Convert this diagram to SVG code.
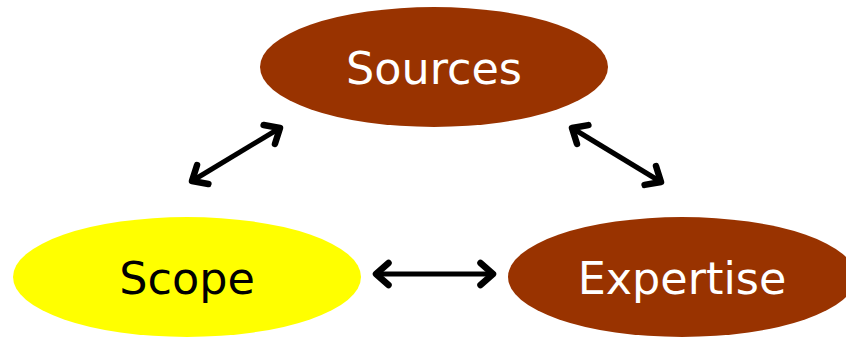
<svg xmlns="http://www.w3.org/2000/svg" width="846" height="337" viewBox="0 0 846 337">
<style>
.lbl{font-family:"DejaVu Sans",Verdana,sans-serif;font-size:44.5px;text-anchor:middle}
.conn{stroke:#000;stroke-width:5;fill:none;marker-start:url(#ah);marker-end:url(#ah)}
</style>
<defs>
<marker id="ah" markerUnits="userSpaceOnUse" viewBox="-20 -15 25 30" markerWidth="25" markerHeight="30" refX="0" refY="0" orient="auto-start-reverse" overflow="visible">
<path d="M-12.5 -11 L0 0 L-12.5 11" fill="none" stroke="#000" stroke-width="6.5" stroke-linecap="round" stroke-linejoin="round"/>
</marker>
</defs>
<rect width="846" height="337" fill="#fff"/>
<g id="sources">
<ellipse cx="434" cy="67" rx="174" ry="60" fill="#993300"/>
<text class="lbl" x="434" y="84" fill="#fff">Sources</text>
</g>
<g id="scope">
<ellipse cx="187" cy="277" rx="174" ry="60" fill="#ffff00"/>
<text class="lbl" x="187" y="294" fill="#000">Scope</text>
</g>
<g id="expertise">
<ellipse cx="682" cy="277" rx="174" ry="60" fill="#993300"/>
<text class="lbl" x="682" y="294" fill="#fff">Expertise</text>
</g>
<g id="connectors">
<path class="conn" d="M192 181 L280 128"/>
<path class="conn" d="M572 128 L661 182"/>
<path class="conn" d="M376 274 L493 274"/>
</g>
</svg>
